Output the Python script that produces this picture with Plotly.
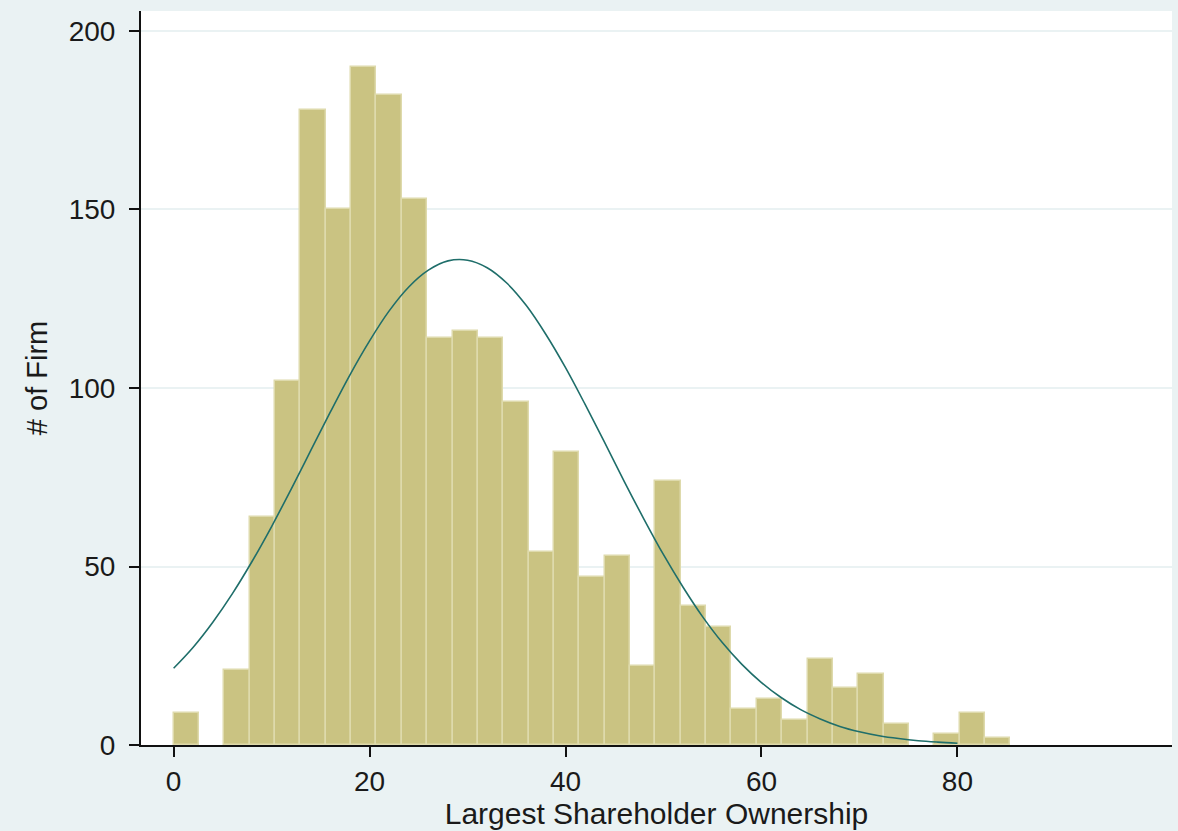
import plotly.graph_objects as go

# Histogram bins (Stata-style, 33 bins starting at 0)
bin_start = 0.0
bin_width = 2.588
counts = [9, 0, 21, 64, 102, 178, 150, 190, 182, 153, 114, 116, 114, 96, 54, 82,
          47, 53, 22, 74, 39, 33, 10, 13, 7, 24, 16, 20, 6, 0, 3, 9, 2]

# Normal density overlay
curve_x = [0, 2, 4, 6, 8, 10, 12, 14, 16, 18, 20, 22, 24, 26, 28, 30, 32, 34, 36, 38,
           40, 42, 44, 46, 48, 50, 52, 54, 56, 58, 60, 62, 64, 66, 68, 70, 72, 74, 76, 78, 80]
curve_y = [21.5, 27.4, 34.4, 42.4, 51.4, 61.2, 71.7, 82.5, 93.3, 103.7, 113.2, 121.6,
           128.3, 133.0, 135.6, 135.8, 133.7, 129.4, 123.1, 115.0, 105.7, 95.4, 84.7,
           73.8, 63.3, 53.3, 44.2, 35.9, 28.7, 22.6, 17.5, 13.3, 9.9, 7.3, 5.2, 3.7,
           2.6, 1.8, 1.2, 0.8, 0.5]

x_ticks = [0, 20, 40, 60, 80]
y_ticks = [0, 50, 100, 150, 200]

centers = [bin_start + (i + 0.5) * bin_width for i in range(len(counts))]
outline_w = [1.5 if c > 0 else 0 for c in counts]

fig = go.Figure()
fig.add_trace(go.Bar(
    x=centers, y=counts, width=bin_width,
    marker=dict(color="#CAC382", line=dict(color="#DEDAAC", width=outline_w)),
    showlegend=False,
))
fig.add_trace(go.Scatter(
    x=curve_x, y=curve_y, mode="lines", line=dict(color="#1F6E6A", width=1.6, shape="spline"),
    showlegend=False,
))

font_family = "Liberation Sans, Arial, sans-serif"
fig.update_layout(
    width=1178, height=831,
    margin=dict(l=141, r=6, t=11, b=86),
    paper_bgcolor="#EAF2F3",
    plot_bgcolor="#FFFFFF",
    bargap=0,
    font=dict(family=font_family, color="#1a1a1a"),
    xaxis=dict(
        range=[-3.33, 101.9], tickvals=x_ticks, ticktext=[str(v) for v in x_ticks],
        showgrid=False, zeroline=False,
        showline=True, linecolor="#111111", linewidth=2,
        ticks="outside", ticklen=10, tickwidth=2, tickcolor="#111111",
        tickfont=dict(size=28, family=font_family),
        title=dict(text="Largest Shareholder Ownership", font=dict(size=30, family=font_family), standoff=0),
    ),
    yaxis=dict(
        range=[0, 205.6], tickvals=y_ticks, ticktext=[str(v) for v in y_ticks],
        showgrid=True, gridcolor="#EAF2F3", gridwidth=1.5, zeroline=False,
        showline=True, linecolor="#111111", linewidth=2,
        ticks="outside", ticklen=10, tickwidth=2, tickcolor="#111111",
        ticklabelstandoff=8,
        tickfont=dict(size=28, family=font_family),
        title=dict(text="# of Firm", font=dict(size=29, family=font_family), standoff=13),
    ),
)

fig.write_html(
    "out.html",
    config={"displayModeBar": False},
    post_script="document.body.style.margin='0px';document.body.style.background='#EAF2F3';",
)
